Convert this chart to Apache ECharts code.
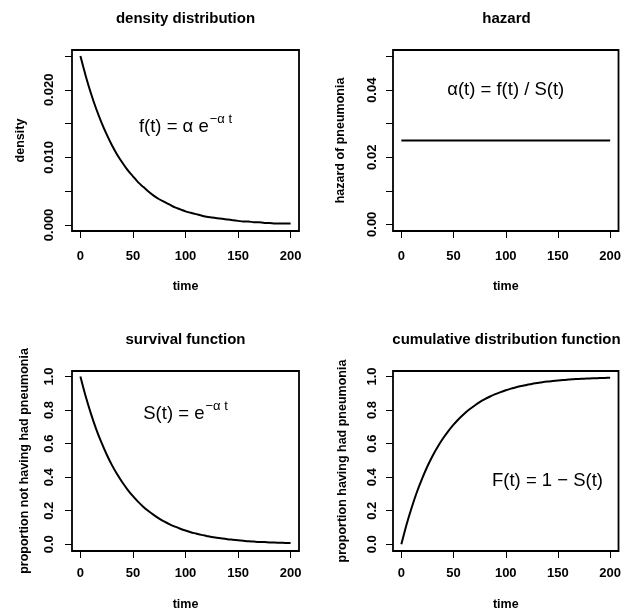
<!DOCTYPE html>
<html>
<head>
<meta charset="utf-8">
<script src="https://cdn.jsdelivr.net/npm/echarts@6/dist/echarts.min.js"></script>
<style>
html,body{margin:0;padding:0;background:#fff;}
#c{width:624px;height:612px;}
</style>
</head>
<body>
<div id="c"></div>
<script>
// ---- data ----
var time = [0,5,10,15,20,25,30,35,40,45,50,55,60,65,70,75,80,85,90,95,100,105,110,115,120,125,130,135,140,145,150,155,160,165,170,175,180,185,190,195,200];
var density = [0.0250,0.0221,0.0195,0.0172,0.0152,0.0134,0.0118,0.0104,0.0092,0.0081,0.0072,0.0063,0.0056,0.0049,0.0043,0.0038,0.0034,0.0030,0.0026,0.0023,0.0020,0.0018,0.0016,0.0014,0.0012,0.0011,0.0010,0.0009,0.0008,0.0007,0.0006,0.0005,0.0005,0.0004,0.0004,0.0003,0.0003,0.0002,0.0002,0.0002,0.0002];
var hazardTime = [0, 200];
var hazard = [0.025, 0.025];
var survival = [1.000,0.882,0.779,0.687,0.607,0.535,0.472,0.417,0.368,0.325,0.287,0.253,0.223,0.197,0.174,0.153,0.135,0.119,0.105,0.093,0.082,0.072,0.064,0.056,0.050,0.044,0.039,0.034,0.030,0.027,0.024,0.021,0.018,0.016,0.014,0.013,0.011,0.010,0.009,0.008,0.007];
var cdf = [0.000,0.118,0.221,0.313,0.393,0.465,0.528,0.583,0.632,0.675,0.713,0.747,0.777,0.803,0.826,0.847,0.865,0.881,0.895,0.907,0.918,0.928,0.936,0.944,0.950,0.956,0.961,0.966,0.970,0.973,0.976,0.979,0.982,0.984,0.986,0.987,0.989,0.990,0.991,0.992,0.993];

var xTicks = [0, 50, 100, 150, 200];
var yTicksDensity = [0, 0.005, 0.010, 0.015, 0.020, 0.025];
var yLabelsDensity = [0, 0.010, 0.020];
var yTicksHazard = [0, 0.01, 0.02, 0.03, 0.04, 0.05];
var yLabelsHazard = [0, 0.02, 0.04];
var yTicksProp = [0, 0.2, 0.4, 0.6, 0.8, 1.0];

var titles = ['density distribution', 'hazard', 'survival function', 'cumulative distribution function'];
var yNames = ['density', 'hazard of pneumonia', 'proportion not having had pneumonia', 'proportion having had pneumonia'];
var xName = 'time';

// ---- layout ----
var FONT = '"Liberation Sans", Arial, Helvetica, sans-serif';
var grids = [
  {left: 72, top: 50, width: 227, height: 181},
  {left: 393, top: 50, width: 227, height: 181},
  {left: 72, top: 371, width: 227, height: 181.5},
  {left: 393, top: 371, width: 227, height: 181.5}
];
var yRange = [[-0.0009, 0.0259], [-0.002, 0.052], [-0.04, 1.033], [-0.04, 1.033]];
var yTickSets = [yTicksDensity, yTicksHazard, yTicksProp, yTicksProp];
var yLabelSets = [yLabelsDensity, yLabelsHazard, yTicksProp, yTicksProp];
var yDec = [3, 2, 1, 1];
var yLabelMargin = [16, 14, 16, 14];
var yNameGap = [45, 46, 41, 44];
var xLabelMargin = [19, 19, 16, 16];
var xNameGap = [49, 49, 47, 47];

function zip(xs, ys) { return xs.map(function (x, i) { return [x, ys[i]]; }); }

var option = {
  animation: false,
  backgroundColor: '#fff',
  textStyle: {fontFamily: FONT},
  title: grids.map(function (g, i) {
    return {
      text: titles[i], left: g.left + g.width / 2, textAlign: 'center', padding: 0,
      top: i < 2 ? 11 : 332,
      textStyle: {fontFamily: FONT, fontSize: 15, fontWeight: 'bold', color: '#000'}
    };
  }),
  grid: grids.map(function (g) {
    return {left: g.left, top: g.top, width: g.width, height: g.height, show: true,
      borderColor: '#000', borderWidth: 1.8, backgroundColor: 'transparent', containLabel: false};
  }),
  xAxis: grids.map(function (g, i) {
    return {
      type: 'value', gridIndex: i, min: -8, max: 208,
      name: xName, nameLocation: 'middle', nameGap: xNameGap[i],
      nameTextStyle: {fontFamily: FONT, fontSize: 12.5, fontWeight: 'bold', color: '#000'},
      axisLine: {show: false, onZero: false},
      axisTick: {show: true, length: 7, customValues: xTicks, lineStyle: {color: '#000', width: 1}},
      axisLabel: {show: true, customValues: xTicks, margin: xLabelMargin[i], fontFamily: FONT, fontSize: 13, fontWeight: 'bold', color: '#000'},
      splitLine: {show: false}
    };
  }),
  yAxis: grids.map(function (g, i) {
    return {
      type: 'value', gridIndex: i, min: yRange[i][0], max: yRange[i][1],
      name: yNames[i], nameLocation: 'middle', nameGap: yNameGap[i],
      nameTextStyle: {fontFamily: FONT, fontSize: 12.5, fontWeight: 'bold', color: '#000'},
      axisLine: {show: false, onZero: false},
      axisTick: {show: true, length: 7, customValues: yTickSets[i], lineStyle: {color: '#000', width: 1}},
      axisLabel: {show: true, customValues: yLabelSets[i], rotate: 90, margin: yLabelMargin[i],
        fontFamily: FONT, fontSize: 13, fontWeight: 'bold', color: '#000',
        formatter: (function (d) { return function (v) { return Number(v).toFixed(d); }; })(yDec[i])},
      splitLine: {show: false}
    };
  }),
  series: []
};

var lineStyle = {color: '#000', width: 2};
option.series.push({type: 'line', xAxisIndex: 0, yAxisIndex: 0, data: zip(time, density), showSymbol: false, smooth: 0.3, lineStyle: lineStyle});
option.series.push({type: 'line', xAxisIndex: 1, yAxisIndex: 1, data: zip(hazardTime, hazard), showSymbol: false, lineStyle: lineStyle});
option.series.push({type: 'line', xAxisIndex: 2, yAxisIndex: 2, data: zip(time, survival), showSymbol: false, smooth: 0.3, lineStyle: lineStyle});
option.series.push({type: 'line', xAxisIndex: 3, yAxisIndex: 3, data: zip(time, cdf), showSymbol: false, smooth: 0.3, lineStyle: lineStyle});

// formula annotations (placed at data coordinates)
var formulaPos = [[100, 0.0145], [100, 0.04], [100, 0.78], [140, 0.38]];
var formulaText = [
  '{n|f(t) = \u03b1 e}{s|\u2212\u03b1 t}',
  '{n|\u03b1(t) = f(t) / S(t)}',
  '{n|S(t) = e}{s|\u2212\u03b1 t}',
  '{n|F(t) = 1 \u2212 S(t)}'
];
var rich = {
  n: {fontFamily: FONT, fontSize: 18.5, color: '#000', lineHeight: 30, textBorderWidth: 0},
  s: {fontFamily: FONT, fontSize: 13, color: '#000', lineHeight: 13, verticalAlign: 'top', padding: [1, 0, 0, 1], textBorderWidth: 0}
};
formulaPos.forEach(function (p, i) {
  option.series.push({
    type: 'scatter', xAxisIndex: i, yAxisIndex: i, data: [p], symbolSize: 1,
    itemStyle: {color: 'rgba(0,0,0,0)'}, silent: true,
    label: {show: true, position: 'inside', color: '#000', textBorderWidth: 0, opacity: 1,
      formatter: formulaText[i], rich: rich}
  });
});

var chart = echarts.init(document.getElementById('c'), null, {renderer: 'canvas'});
chart.setOption(option);
</script>
</body>
</html>
